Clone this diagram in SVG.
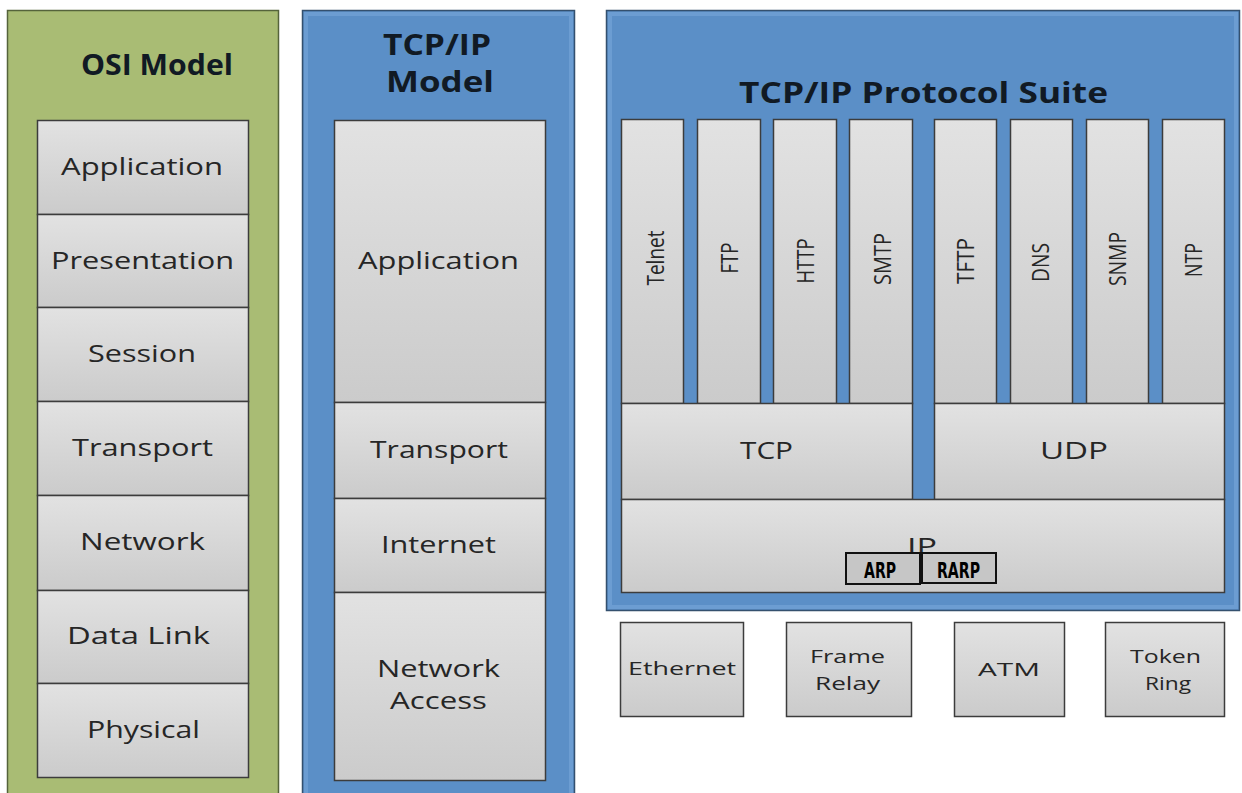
<svg xmlns="http://www.w3.org/2000/svg" width="1242" height="793" viewBox="0 0 1242 793">
  <defs>
    <linearGradient id="grayFill" x1="0" y1="0" x2="0" y2="1">
      <stop offset="0" stop-color="#e2e2e2"/>
      <stop offset="1" stop-color="#cbcbcb"/>
    </linearGradient>
    <style>
      .panel-green { fill: #a9bc74; stroke: #55633b; stroke-width: 1.5; }
      .panel-blue { fill: #5b8fc7; stroke: #34506e; stroke-width: 1.5; }
      .inner-glow { fill: none; stroke: #6c9dd2; stroke-width: 4; }
      .box { fill: url(#grayFill); stroke: #3c3c3c; stroke-width: 1.5; }
      .tag { fill: #c6c6c6; stroke: #111111; stroke-width: 2; }
      .title { font-family: "Open Sans", "Liberation Sans", sans-serif; font-weight: bold; fill: #111a24; text-anchor: middle; }
      .label { font-family: "Open Sans", "Liberation Sans", sans-serif; font-size: 24px; fill: #262626; text-anchor: middle; }
      .small { font-family: "Open Sans", "Liberation Sans", sans-serif; font-size: 18px; fill: #262626; text-anchor: middle; }
      .vert { font-family: "Open Sans", "Liberation Sans", sans-serif; font-size: 24px; fill: #262626; text-anchor: middle; }
      .tagtext { font-family: "DejaVu Sans Condensed", "Liberation Sans Narrow", "Liberation Sans", sans-serif; font-weight: bold; font-size: 21px; fill: #000000; text-anchor: middle; }
    </style>
  </defs>

  <rect width="1242" height="793" fill="#ffffff"/>

  <!-- OSI reference model -->
  <g id="osi-model">
    <rect class="panel-green" x="7.5" y="10.5" width="271" height="790"/>
    <text class="title" x="157" y="75" font-size="28" textLength="152" lengthAdjust="spacingAndGlyphs">OSI Model</text>
    <g id="osi-layers">
      <rect class="box" x="37.5" y="120.5" width="211" height="94"/>
      <rect class="box" x="37.5" y="214.5" width="211" height="93"/>
      <rect class="box" x="37.5" y="307.5" width="211" height="94"/>
      <rect class="box" x="37.5" y="401.5" width="211" height="94"/>
      <rect class="box" x="37.5" y="495.5" width="211" height="95"/>
      <rect class="box" x="37.5" y="590.5" width="211" height="93"/>
      <rect class="box" x="37.5" y="683.5" width="211" height="94"/>
      <text class="label" x="142" y="175" textLength="162" lengthAdjust="spacingAndGlyphs">Application</text>
      <text class="label" x="142.5" y="269" textLength="183" lengthAdjust="spacingAndGlyphs">Presentation</text>
      <text class="label" x="142" y="362" textLength="108" lengthAdjust="spacingAndGlyphs">Session</text>
      <text class="label" x="142.5" y="456" textLength="141" lengthAdjust="spacingAndGlyphs">Transport</text>
      <text class="label" x="142.5" y="550" textLength="125" lengthAdjust="spacingAndGlyphs">Network</text>
      <text class="label" x="138.5" y="644" textLength="143" lengthAdjust="spacingAndGlyphs">Data Link</text>
      <text class="label" x="143.5" y="738" textLength="113" lengthAdjust="spacingAndGlyphs">Physical</text>
    </g>
  </g>

  <!-- TCP/IP four-layer model -->
  <g id="tcpip-model">
    <rect class="panel-blue" x="302.5" y="10.5" width="272" height="790"/>
    <rect class="inner-glow" x="306" y="14" width="265" height="790"/>
    <text class="title" x="437" y="55" font-size="28" textLength="108" lengthAdjust="spacingAndGlyphs">TCP/IP</text>
    <text class="title" x="440" y="92" font-size="28" textLength="108" lengthAdjust="spacingAndGlyphs">Model</text>
    <g id="tcpip-layers">
      <rect class="box" x="334.5" y="120.5" width="211" height="282"/>
      <rect class="box" x="334.5" y="402.5" width="211" height="96"/>
      <rect class="box" x="334.5" y="498.5" width="211" height="94"/>
      <rect class="box" x="334.5" y="592.5" width="211" height="188"/>
      <text class="label" x="438.5" y="269" textLength="161" lengthAdjust="spacingAndGlyphs">Application</text>
      <text class="label" x="439" y="458" textLength="138" lengthAdjust="spacingAndGlyphs">Transport</text>
      <text class="label" x="438.5" y="553" textLength="115" lengthAdjust="spacingAndGlyphs">Internet</text>
      <text class="label" x="438.5" y="677" textLength="123" lengthAdjust="spacingAndGlyphs">Network</text>
      <text class="label" x="438.5" y="709" textLength="97" lengthAdjust="spacingAndGlyphs">Access</text>
    </g>
  </g>

  <!-- Protocol suite -->
  <g id="protocol-suite">
    <rect class="panel-blue" x="606.5" y="10.5" width="633" height="600"/>
    <rect class="inner-glow" x="610" y="14" width="626" height="593"/>
    <text class="title" x="923.5" y="103" font-size="28" textLength="369" lengthAdjust="spacingAndGlyphs">TCP/IP Protocol Suite</text>

    <g id="application-protocols">
      <rect class="box" x="621.5" y="119.5" width="62" height="284"/>
      <rect class="box" x="697.5" y="119.5" width="63" height="284"/>
      <rect class="box" x="773.5" y="119.5" width="63" height="284"/>
      <rect class="box" x="849.5" y="119.5" width="63" height="284"/>
      <rect class="box" x="934.5" y="119.5" width="62" height="284"/>
      <rect class="box" x="1010.5" y="119.5" width="62" height="284"/>
      <rect class="box" x="1086.5" y="119.5" width="62" height="284"/>
      <rect class="box" x="1162.5" y="119.5" width="62" height="284"/>
      <text class="vert" transform="translate(664 258) rotate(-90)" textLength="55" lengthAdjust="spacingAndGlyphs">Telnet</text>
      <text class="vert" transform="translate(738 258) rotate(-90)" textLength="31" lengthAdjust="spacingAndGlyphs">FTP</text>
      <text class="vert" transform="translate(814 261) rotate(-90)" textLength="45" lengthAdjust="spacingAndGlyphs">HTTP</text>
      <text class="vert" transform="translate(891 259) rotate(-90)" textLength="52" lengthAdjust="spacingAndGlyphs">SMTP</text>
      <text class="vert" transform="translate(974 261) rotate(-90)" textLength="46" lengthAdjust="spacingAndGlyphs">TFTP</text>
      <text class="vert" transform="translate(1049 262.5) rotate(-90)" textLength="39" lengthAdjust="spacingAndGlyphs">DNS</text>
      <text class="vert" transform="translate(1126 259) rotate(-90)" textLength="54" lengthAdjust="spacingAndGlyphs">SNMP</text>
      <text class="vert" transform="translate(1202 260) rotate(-90)" textLength="34" lengthAdjust="spacingAndGlyphs">NTP</text>
    </g>

    <g id="transport-protocols">
      <rect class="box" x="621.5" y="403.5" width="291" height="96"/>
      <rect class="box" x="934.5" y="403.5" width="290" height="96"/>
      <text class="label" x="766.5" y="459" textLength="53" lengthAdjust="spacingAndGlyphs">TCP</text>
      <text class="label" x="1074" y="459" textLength="68" lengthAdjust="spacingAndGlyphs">UDP</text>
    </g>

    <g id="internet-protocols">
      <rect class="box" x="621.5" y="499.5" width="603" height="93"/>
      <text class="label" x="922" y="555" textLength="30" lengthAdjust="spacingAndGlyphs">IP</text>
      <g id="arp">
        <rect class="tag" x="846" y="553" width="74" height="31"/>
        <text class="tagtext" x="880" y="578" textLength="32" lengthAdjust="spacingAndGlyphs">ARP</text>
      </g>
      <g id="rarp">
        <rect class="tag" x="922" y="553" width="74" height="30"/>
        <text class="tagtext" x="958.5" y="578" textLength="43" lengthAdjust="spacingAndGlyphs">RARP</text>
      </g>
    </g>
  </g>

  <!-- Network access technologies -->
  <g id="ethernet">
    <rect class="box" x="620.5" y="622.5" width="123" height="94"/>
    <text class="small" x="682" y="675" textLength="108" lengthAdjust="spacingAndGlyphs">Ethernet</text>
  </g>
  <g id="frame-relay">
    <rect class="box" x="786.5" y="622.5" width="125" height="94"/>
    <text class="small" x="847.5" y="663" textLength="75" lengthAdjust="spacingAndGlyphs">Frame</text>
    <text class="small" x="847.5" y="690" textLength="65" lengthAdjust="spacingAndGlyphs">Relay</text>
  </g>
  <g id="atm">
    <rect class="box" x="954.5" y="622.5" width="110" height="94"/>
    <text class="small" x="1009" y="676" textLength="62" lengthAdjust="spacingAndGlyphs">ATM</text>
  </g>
  <g id="token-ring">
    <rect class="box" x="1105.5" y="622.5" width="119" height="94"/>
    <text class="small" x="1165.5" y="663" textLength="71" lengthAdjust="spacingAndGlyphs">Token</text>
    <text class="small" x="1168" y="690" textLength="46" lengthAdjust="spacingAndGlyphs">Ring</text>
  </g>

  <g id="connectors"/>
</svg>
